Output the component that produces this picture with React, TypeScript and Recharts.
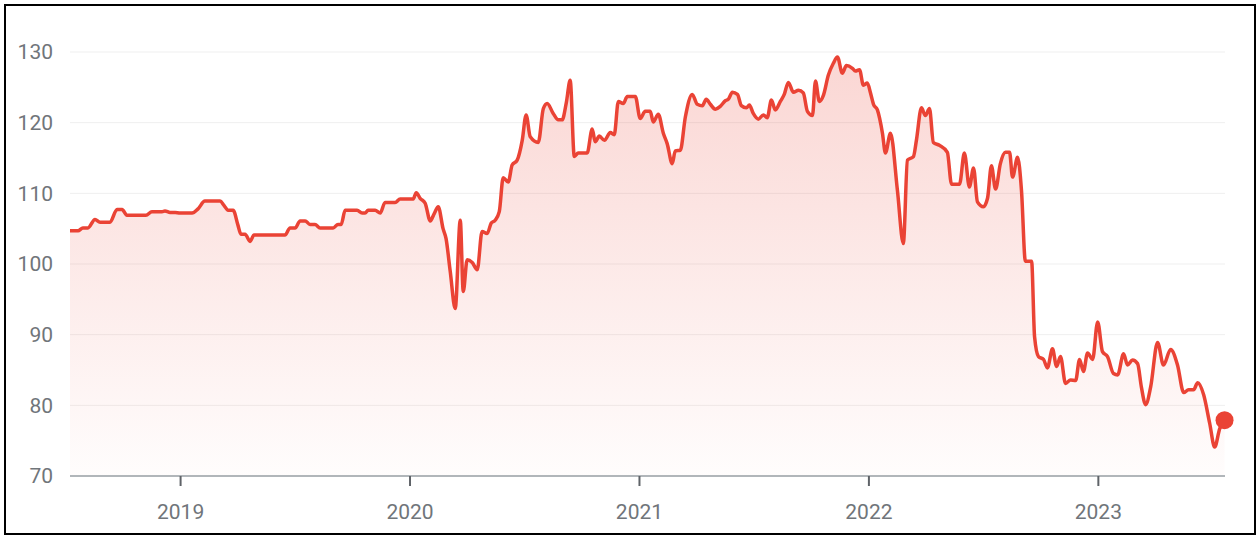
import { Area, AreaChart, CartesianGrid, XAxis, YAxis } from "recharts";

// time in decimal years, closing price
const years = [
  2018.518, 2018.553, 2018.574, 2018.596, 2018.627, 2018.649, 2018.692, 2018.723, 2018.745, 2018.766,
  2018.849, 2018.875, 2018.919, 2018.932, 2018.954, 2018.976, 2018.997, 2019.05, 2019.076, 2019.106,
  2019.172, 2019.189, 2019.207, 2019.229, 2019.25, 2019.263, 2019.281, 2019.303, 2019.32, 2019.455,
  2019.477, 2019.499, 2019.521, 2019.543, 2019.564, 2019.586, 2019.608, 2019.665, 2019.686, 2019.7,
  2019.717, 2019.769, 2019.791, 2019.804, 2019.817, 2019.848, 2019.87, 2019.891, 2019.935, 2019.957,
  2020.014, 2020.027, 2020.044, 2020.066, 2020.088, 2020.105, 2020.123, 2020.144, 2020.157, 2020.175,
  2020.197, 2020.219, 2020.232, 2020.249, 2020.271, 2020.293, 2020.314, 2020.336, 2020.354, 2020.371,
  2020.389, 2020.406, 2020.428, 2020.445, 2020.467, 2020.489, 2020.506, 2020.524, 2020.559, 2020.581,
  2020.598, 2020.624, 2020.646, 2020.663, 2020.681, 2020.698, 2020.716, 2020.733, 2020.772, 2020.794,
  2020.807, 2020.825, 2020.847, 2020.873, 2020.89, 2020.908, 2020.929, 2020.947, 2020.982, 2021.003,
  2021.025, 2021.047, 2021.06, 2021.082, 2021.104, 2021.121, 2021.143, 2021.156, 2021.178, 2021.2,
  2021.23, 2021.252, 2021.274, 2021.291, 2021.309, 2021.331, 2021.352, 2021.374, 2021.387, 2021.405,
  2021.427, 2021.444, 2021.466, 2021.479, 2021.496, 2021.518, 2021.54, 2021.557, 2021.575, 2021.592,
  2021.614, 2021.631, 2021.649, 2021.671, 2021.693, 2021.714, 2021.732, 2021.754, 2021.767, 2021.784,
  2021.802, 2021.823, 2021.845, 2021.863, 2021.884, 2021.902, 2021.928, 2021.941, 2021.959, 2021.976,
  2021.993, 2022.007, 2022.02, 2022.037, 2022.059, 2022.072, 2022.094, 2022.124, 2022.15, 2022.168,
  2022.194, 2022.207, 2022.229, 2022.246, 2022.264, 2022.281, 2022.307, 2022.342, 2022.36, 2022.395,
  2022.416, 2022.438, 2022.456, 2022.473, 2022.499, 2022.517, 2022.534, 2022.552, 2022.573, 2022.595,
  2022.613, 2022.626, 2022.648, 2022.665, 2022.682, 2022.709, 2022.722, 2022.739, 2022.761, 2022.778,
  2022.8, 2022.818, 2022.835, 2022.857, 2022.879, 2022.901, 2022.918, 2022.935, 2022.953, 2022.975,
  2022.997, 2023.018, 2023.04, 2023.066, 2023.084, 2023.11, 2023.127, 2023.149, 2023.171, 2023.188,
  2023.206, 2023.228, 2023.258, 2023.284, 2023.315, 2023.345, 2023.372, 2023.393, 2023.415, 2023.433,
  2023.459, 2023.485, 2023.507, 2023.529, 2023.55,
];

const prices = [
  104.7, 104.7, 105.1, 105.1, 106.3, 105.9, 105.9, 107.7, 107.7, 106.9,
  106.9, 107.4, 107.4, 107.5, 107.3, 107.3, 107.2, 107.2, 107.8, 108.9,
  108.9, 108.3, 107.6, 107.6, 105.5, 104.2, 104.2, 103.2, 104.1, 104.1,
  105.1, 105.1, 106.1, 106.1, 105.6, 105.6, 105.1, 105.1, 105.6, 105.6,
  107.6, 107.6, 107.2, 107.2, 107.6, 107.6, 107.2, 108.7, 108.7, 109.2,
  109.2, 110.1, 109.3, 108.6, 106.1, 107.1, 108.1, 105.0, 103.6, 99.0,
  93.7, 106.2, 96.1, 100.6, 100.2, 99.2, 104.6, 104.3, 105.8, 106.2,
  107.4, 112.2, 111.6, 114.0, 114.7, 117.5, 121.1, 118.0, 117.2, 122.0,
  122.7, 121.3, 120.4, 120.4, 122.8, 126.0, 115.2, 115.7, 115.7, 119.1,
  117.3, 118.1, 117.5, 118.6, 118.3, 123.0, 122.7, 123.7, 123.7, 120.6,
  121.6, 121.6, 120.1, 121.2, 118.5, 117.0, 114.2, 116.0, 116.1, 120.8,
  124.0, 122.6, 122.4, 123.3, 122.6, 121.9, 122.3, 123.1, 123.3, 124.3,
  124.0, 122.4, 122.1, 122.5, 121.3, 120.5, 121.1, 120.7, 123.2, 121.8,
  123.0, 124.0, 125.7, 124.3, 124.6, 124.2, 121.6, 121.0, 125.9, 123.0,
  123.9, 126.7, 128.4, 129.3, 127.0, 128.1, 127.7, 127.3, 127.5, 125.3,
  125.6, 124.2, 122.6, 121.8, 118.5, 115.7, 118.5, 110.5, 102.9, 114.7,
  115.2, 117.5, 122.1, 121.0, 122.0, 117.2, 116.8, 115.8, 111.3, 111.3,
  115.7, 110.9, 113.6, 108.8, 108.1, 109.3, 113.9, 110.6, 114.2, 115.8,
  115.8, 112.3, 115.1, 110.4, 100.4, 100.4, 89.7, 86.9, 86.5, 85.3,
  88.0, 85.5, 86.9, 83.1, 83.6, 83.5, 86.5, 84.8, 87.4, 86.5,
  91.8, 87.6, 86.9, 84.5, 84.3, 87.3, 85.7, 86.4, 85.9, 82.5,
  80.1, 82.6, 88.9, 85.7, 87.9, 85.7, 81.8, 82.2, 82.2, 83.2,
  81.5, 77.5, 74.1, 76.7, 77.9,
];

const yearTicks = [2019, 2020, 2021, 2022, 2023];
const priceTicks = [70, 80, 90, 100, 110, 120, 130];

const data = years.map((t, i) => ({ t, price: prices[i] }));

const RED = "#ea4335";
const LABEL = "#70757a";

function LastDot(props: any) {
  const { cx, cy, index } = props;
  if (index !== data.length - 1) return <g key={index} />;
  return <circle key={index} cx={cx} cy={cy} r={9} fill={RED} />;
}

export default function App() {
  return (
    <div style={{ position: "absolute", left: 0, top: 0, width: 1260, height: 538, background: "#fff", fontFamily: "Roboto, sans-serif" }}>
      <div
        style={{
          position: "absolute",
          left: 4,
          top: 4,
          width: 1252,
          height: 531,
          border: "2px solid #000",
          boxSizing: "border-box",
        }}
      />
      <div style={{ position: "absolute", left: 0, top: 0 }}>
        <AreaChart width={1260} height={538} data={data} margin={{ top: 52, right: 35, bottom: 32, left: 10 }}>
          <defs>
            <linearGradient id="fillRed" x1="0" y1="0" x2="0" y2="1">
              <stop offset="0%" stopColor={RED} stopOpacity={0.36} />
              <stop offset="100%" stopColor={RED} stopOpacity={0.02} />
            </linearGradient>
          </defs>
          <CartesianGrid horizontal vertical={false} stroke="#efefef" strokeWidth={1} />
          <XAxis
            dataKey="t"
            type="number"
            domain={[2018.518, 2023.552]}
            ticks={yearTicks}
            height={30}
            axisLine={{ stroke: "#9aa0a6", strokeWidth: 1.5 }}
            tickLine={{ stroke: "#5f6368", strokeWidth: 2 }}
            tickSize={10}
            tickMargin={18}
            tick={{ fill: LABEL, fontSize: 21 }}
          />
          <YAxis
            type="number"
            domain={[70, 130]}
            ticks={priceTicks}
            width={60}
            axisLine={false}
            tickLine={false}
            tickSize={0}
            tickMargin={17}
            tick={{ fill: LABEL, fontSize: 21 }}
          />
          <Area
            type="monotone"
            dataKey="price"
            stroke={RED}
            strokeWidth={3.5}
            strokeLinejoin="round"
            fill="url(#fillRed)"
            dot={LastDot}
            activeDot={false}
            isAnimationActive={false}
          />
        </AreaChart>
      </div>
    </div>
  );
}
